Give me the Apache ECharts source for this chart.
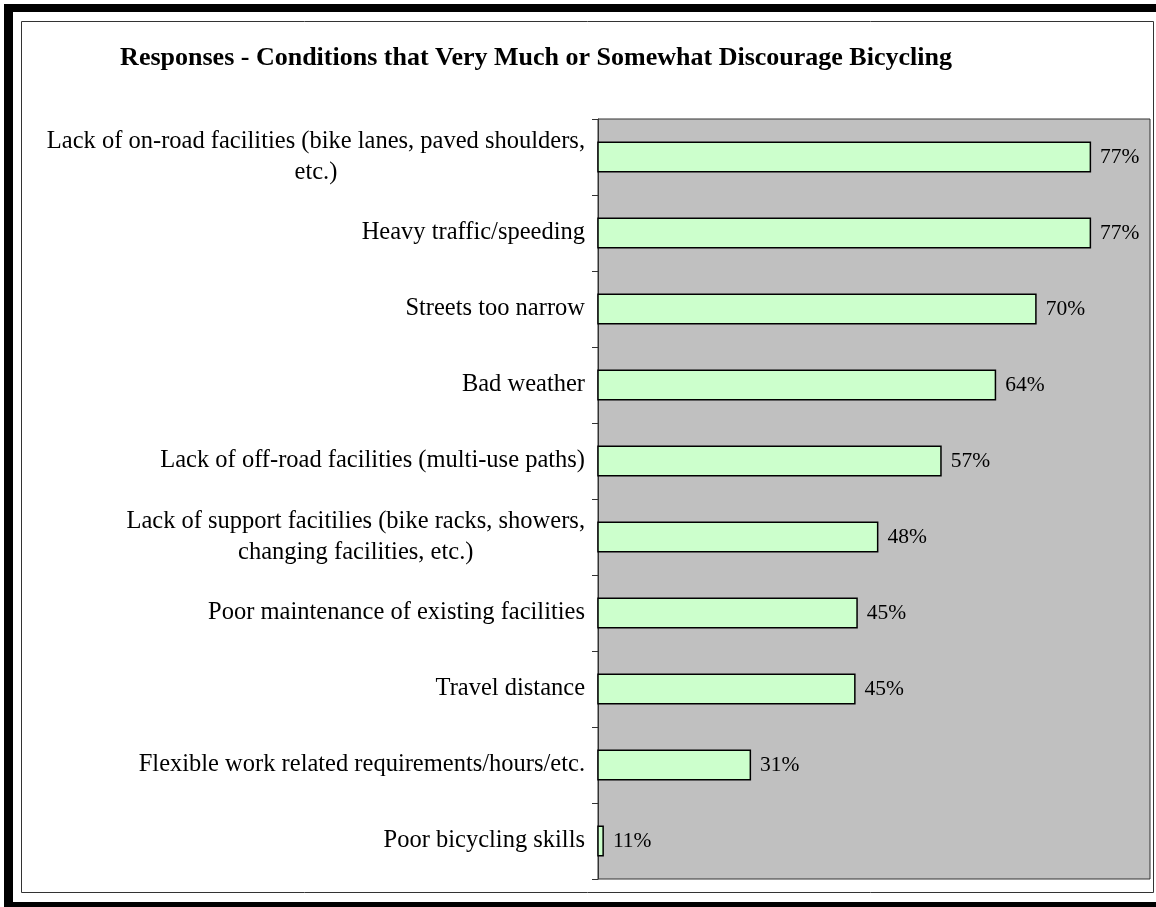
<!DOCTYPE html>
<html>
<head>
<meta charset="utf-8">
<script src="https://cdn.jsdelivr.net/npm/echarts@6/dist/echarts.min.js"></script>
<style>
  html, body { margin: 0; padding: 0; background: #fff; }
  #chart { width: 1156px; height: 907px; }
</style>
</head>
<body>
<div id="chart"></div>
<script>
// survey answers, top to bottom
var categories = [
  'Lack of on-road facilities (bike lanes, paved shoulders,\netc.)',
  'Heavy traffic/speeding',
  'Streets too narrow',
  'Bad weather',
  'Lack of off-road facilities (multi-use paths)',
  'Lack of support facitilies (bike racks, showers,\nchanging facilities, etc.)',
  'Poor maintenance of existing facilities',
  'Travel distance',
  'Flexible work related requirements/hours/etc.',
  'Poor bicycling skills'
];
var percents = [77, 77, 69.6, 64.1, 56.7, 48.1, 45.3, 45.0, 30.8, 10.8];

var serif = '"Liberation Serif", "Times New Roman", serif';

var chart = echarts.init(document.getElementById('chart'));

var option = {
  backgroundColor: '#fff',
  animation: false,
  title: {
    text: 'Responses - Conditions that Very Much or Somewhat Discourage Bicycling',
    left: 531,
    top: 40,
    textAlign: 'center',
    textStyle: {
      fontFamily: serif,
      fontWeight: 'bold',
      fontSize: 26,
      color: '#000'
    }
  },
  grid: {
    left: 598,
    right: 6,
    top: 119,
    bottom: 28,
    show: true,
    backgroundColor: '#c0c0c0',
    borderColor: '#333',
    borderWidth: 1
  },
  xAxis: {
    type: 'value',
    min: 10,
    max: 85,
    axisLine: { show: false },
    axisTick: { show: false },
    axisLabel: { show: false },
    splitLine: { show: false }
  },
  yAxis: {
    type: 'category',
    inverse: true,
    data: categories,
    axisLine: { show: true, lineStyle: { color: '#333', width: 1 } },
    axisTick: { show: true, inside: false, length: 6, lineStyle: { color: '#333', width: 1 } },
    axisLabel: {
      margin: 13,
      formatter: function (v) {
        return v.split('\n').map(function (l) { return '{c|' + l + '}'; }).join('\n');
      },
      rich: {
        c: {
          align: 'center',
          fontFamily: serif,
          fontSize: 24.5,
          lineHeight: 31,
          color: '#000'
        }
      }
    }
  },
  series: [{
    type: 'bar',
    data: percents,
    barWidth: 31,
    itemStyle: {
      color: '#ccffcc',
      borderColor: '#000',
      borderWidth: 1.5
    },
    label: {
      show: true,
      position: 'right',
      distance: 9,
      fontFamily: serif,
      fontSize: 21.5,
      color: '#000',
      formatter: function (p) { return Math.round(p.value) + '%'; }
    }
  }],
  graphic: [
    // inner thin frame
    { type: 'rect', shape: { x: 21.5, y: 21.5, width: 1132, height: 871 },
      style: { fill: 'none', stroke: '#333', lineWidth: 1 }, z: -1 },
    // thick outer border (left, top, bottom)
    { type: 'rect', shape: { x: 4, y: 4, width: 9, height: 903 }, style: { fill: '#000' } },
    { type: 'rect', shape: { x: 4, y: 4, width: 1152, height: 8 }, style: { fill: '#000' } },
    { type: 'rect', shape: { x: 4, y: 902, width: 1152, height: 5 }, style: { fill: '#000' } }
  ]
};

chart.setOption(option);
</script>
</body>
</html>
